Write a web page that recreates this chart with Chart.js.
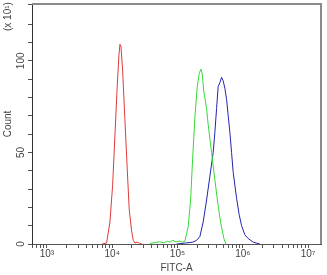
<!DOCTYPE html>
<html>
<head>
<meta charset="utf-8">
<script src="https://cdn.jsdelivr.net/npm/chart.js@4"></script>
<style>
html, body { margin: 0; padding: 0; background: #fff; }
#wrap { width: 327px; height: 275px; }
</style>
</head>
<body>
<div id="wrap"><canvas id="facsChart"></canvas></div>
<script>
// FITC-A histogram, counts are in units of 10 (x 10^1)
const redFitc = [7000, 8200, 9220, 10140, 10990, 11930, 12670, 13130, 13600, 14430, 15640, 16980, 18210, 19820, 21000, 22270, 24000, 26000, 28500];
const redCount = [0, 0.5, 12, 32, 59, 86, 103, 109, 108, 95, 68, 41, 19, 7, 2, 0.5, 1, 0.5, 0];

const greenFitc = [37800, 45000, 53700, 62000, 70000, 76500, 85000, 95000, 109000, 120000, 129800, 145800, 158800, 170300, 184600, 200300, 215000, 228200, 238900, 253500, 279000, 295300, 332700, 374000, 415600, 462100, 513800, 551100];
const greenCount = [0.3, 0.8, 1.2, 0.6, 1.5, 1, 2, 1.2, 1.6, 1, 1.5, 9.4, 24, 46, 69, 85.5, 93, 95.5, 93, 83, 74, 65, 50, 35, 22, 11, 3, 0];

const blueFitc = [96800, 129800, 172200, 196000, 220100, 247500, 279000, 313400, 352300, 374000, 397100, 420000, 445800, 473200, 501300, 532000, 564800, 598300, 634500, 673500, 713700, 803700, 880900, 959400, 1077000, 1210000, 1443000, 1827000];
const blueCount = [0, 0.5, 1, 2, 4, 12, 24, 37, 50, 61, 74, 86, 88, 91, 89, 85, 79, 70, 61, 50, 39, 25, 16, 10, 5, 3, 1, 0];

const xTickLabels = ['10³', '10⁴', '10⁵', '10⁶', '10⁷'];
const yTickLabels = ['0', '50', '100'];

Chart.defaults.font.family = '"Liberation Sans", Arial, sans-serif';
Chart.defaults.font.size = 10;
Chart.defaults.color = '#444';

// minor + major ticks for the log axis
const logTicks = [];
for (let e = 2; e <= 7; e++) {
    for (let m = 1; m <= 9; m++) {
        const v = m * Math.pow(10, e);
        if (v >= 590 && v <= 1.58e7) logTicks.push(v);
    }
}

const pts = (xs, ys) => xs.map((x, i) => ({ x: x, y: ys[i] }));

// top/right frame and the (x 10^1) note
const frame = {
    id: 'frame',
    afterDraw(chart) {
        const { ctx, chartArea: a } = chart;
        ctx.save();
        ctx.strokeStyle = '#8a8a8a';
        ctx.lineWidth = 2;
        ctx.beginPath();
        ctx.moveTo(a.left, a.top);
        ctx.lineTo(a.right, a.top);
        ctx.lineTo(a.right, a.bottom);
        ctx.stroke();
        ctx.translate(8, 31);
        ctx.rotate(-Math.PI / 2);
        ctx.font = '10px "Liberation Sans", Arial, sans-serif';
        ctx.fillStyle = '#444';
        ctx.textBaseline = 'middle';
        ctx.fillText('(x 10¹)', 0, 0);
        ctx.restore();
    }
};

const ctx = document.getElementById('facsChart').getContext('2d');
const facsChart = new Chart(ctx, {
    type: 'line',
    data: {
        datasets: [
            { label: 'red', data: pts(redFitc, redCount), borderColor: '#e03a3a' },
            { label: 'green', data: pts(greenFitc, greenCount), borderColor: '#38d838' },
            { label: 'blue', data: pts(blueFitc, blueCount), borderColor: '#2424b0' }
        ]
    },
    options: {
        responsive: true,
        maintainAspectRatio: false,
        animation: false,
        devicePixelRatio: 1,
        layout: { padding: { top: 2, right: 6, left: 0, bottom: 0 } },
        elements: {
            line: { borderWidth: 1, tension: 0, fill: false },
            point: { radius: 0 }
        },
        plugins: {
            legend: { display: false },
            tooltip: { enabled: false }
        },
        scales: {
            x: {
                type: 'logarithmic',
                min: 590,
                max: 1.58e7,
                afterBuildTicks: s => { s.ticks = logTicks.map(v => ({ value: v })); },
                afterFit: s => { s.height = 31; },
                ticks: {
                    autoSkip: false,
                    minRotation: 0,
                    maxRotation: 0,
                    padding: 0,
                    callback: v => {
                        const e = Math.log10(v);
                        if (Math.abs(e - Math.round(e)) > 1e-6) return '';
                        return xTickLabels[Math.round(e) - 3] || '';
                    }
                },
                grid: { drawOnChartArea: false, tickLength: 4, color: '#555' },
                border: { color: '#555', width: 1 },
                title: { display: true, text: 'FITC-A', padding: { top: 0, bottom: 1 } }
            },
            y: {
                min: 0,
                max: 131,
                afterFit: s => { s.width = 32; },
                ticks: {
                    stepSize: 10,
                    autoSkip: false,
                    minRotation: 90,
                    maxRotation: 90,
                    crossAlign: 'center',
                    padding: -2,
                    callback: v => yTickLabels.includes(String(v)) ? String(v) : ''
                },
                grid: { drawOnChartArea: false, tickLength: 4, color: '#555' },
                border: { color: '#333', width: 1 },
                title: { display: true, text: 'Count', padding: { top: 2, bottom: 0 } }
            }
        }
    },
    plugins: [frame]
});
</script>
</body>
</html>
